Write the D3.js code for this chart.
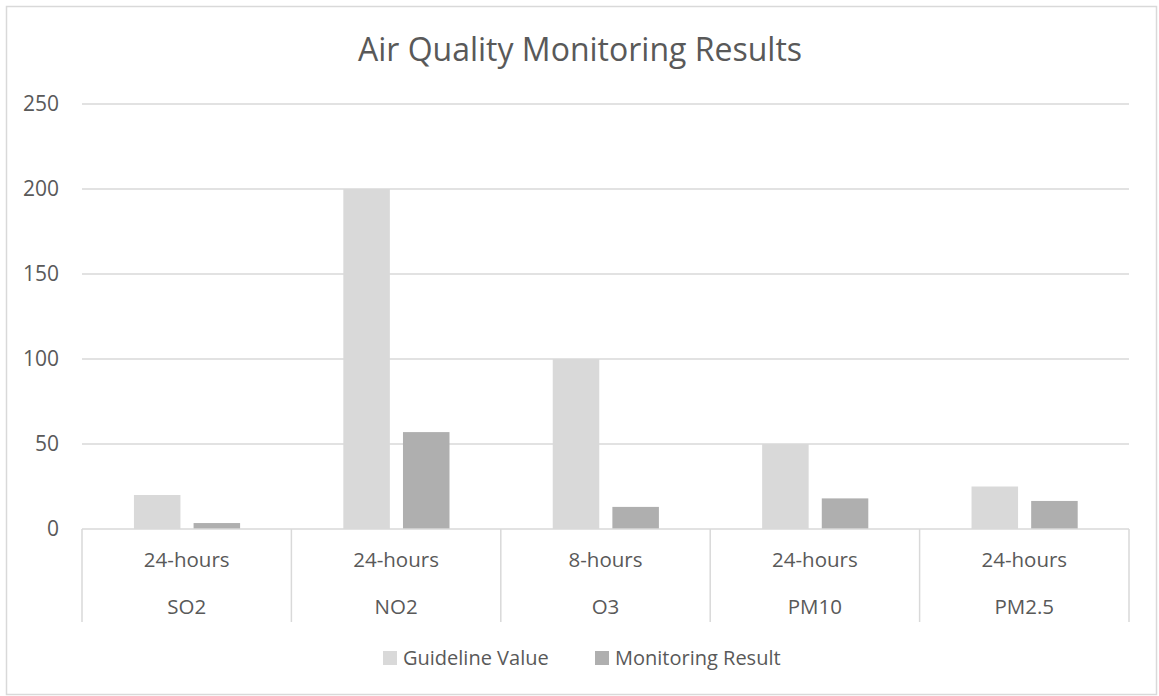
<!DOCTYPE html>
<html>
<head>
<meta charset="utf-8">
<script src="https://cdn.jsdelivr.net/npm/d3@7"></script>
<style>
body { margin: 0; background: #fff; }
text { font-family: "Open Sans", sans-serif; fill: #595959; }
</style>
</head>
<body>
<svg id="chart" width="1159" height="696"></svg>
<script>
// chart data
const pollutants = ["SO2", "NO2", "O3", "PM10", "PM2.5"];
const periods = ["24-hours", "24-hours", "8-hours", "24-hours", "24-hours"];
const seriesNames = ["Guideline Value", "Monitoring Result"];
const guideline = [20, 200, 100, 50, 25];
const monitoring = [3.5, 57, 13, 18, 16.5];
const yTicks = [0, 50, 100, 150, 200, 250];

const seriesColors = ["#d9d9d9", "#afafaf"];
const rows = pollutants.map((p, i) => ({ p: p, vals: [guideline[i], monitoring[i]] }));

const svg = d3.select("#chart");
const plotLeft = 82, plotRight = 1129, plotTop = 104, zeroY = 529;

// outer border
svg.append("rect")
.attr("x", 6.5).attr("y", 6.5)
.attr("width", 1150).attr("height", 688)
.attr("fill", "#fff")
.attr("stroke", "#d9d9d9")
.attr("stroke-width", 1.5);

const x0 = d3.scaleBand().domain(pollutants).range([plotLeft, plotRight]).padding(0);
const bw = x0.bandwidth();
const x1 = d3.scaleBand().domain(seriesNames)
.range([bw * 0.248, bw * 0.755]).paddingInner(0.22);
const y = d3.scaleLinear().domain([0, 250]).range([zeroY, plotTop]);

// gridlines
svg.append("g").selectAll("line")
.data(yTicks.filter(d => d > 0))
.join("line")
.attr("x1", plotLeft).attr("x2", plotRight)
.attr("y1", d => y(d)).attr("y2", d => y(d))
.attr("stroke", "#d9d9d9")
.attr("stroke-width", 1.5);

// y tick labels
svg.append("g").selectAll("text")
.data(yTicks)
.join("text")
.attr("x", 59)
.attr("y", d => y(d))
.attr("dy", "0.35em")
.attr("text-anchor", "end")
.style("font-size", "21px")
.text(d => d);

// bars
const groups = svg.append("g").selectAll("g")
.data(rows)
.join("g")
.attr("transform", d => `translate(${x0(d.p)},0)`);

groups.selectAll("rect")
.data(d => d.vals.map((v, i) => ({ s: seriesNames[i], v: v, i: i })))
.join("rect")
.attr("x", d => x1(d.s))
.attr("width", x1.bandwidth())
.attr("y", d => y(d.v))
.attr("height", d => zeroY - y(d.v))
.attr("fill", d => seriesColors[d.i]);

// category axis: baseline + dividers
svg.append("line")
.attr("x1", plotLeft).attr("x2", plotRight)
.attr("y1", zeroY).attr("y2", zeroY)
.attr("stroke", "#d9d9d9").attr("stroke-width", 1.5);

const dividers = pollutants.map(p => x0(p)).concat([plotRight]);
svg.append("g").selectAll("line")
.data(dividers)
.join("line")
.attr("x1", d => d).attr("x2", d => d)
.attr("y1", zeroY).attr("y2", 622)
.attr("stroke", "#d9d9d9").attr("stroke-width", 1.5);

// two-level category labels
svg.append("g").selectAll("text")
.data(pollutants)
.join("text")
.attr("x", d => x0(d) + bw / 2)
.attr("y", 567)
.attr("text-anchor", "middle")
.style("font-size", "20.5px")
.text((d, i) => periods[i]);

svg.append("g").selectAll("text")
.data(pollutants)
.join("text")
.attr("x", d => x0(d) + bw / 2)
.attr("y", 614)
.attr("text-anchor", "middle")
.style("font-size", "20.5px")
.text(d => d);

// title
svg.append("text")
.attr("x", 580)
.attr("y", 61)
.attr("text-anchor", "middle")
.style("font-size", "32px")
.text("Air Quality Monitoring Results");

// legend
const legendX = [383, 595];
const legend = svg.append("g").selectAll("g")
.data(seriesNames)
.join("g")
.attr("transform", (d, i) => `translate(${legendX[i]},651)`);

legend.append("rect")
.attr("width", 14).attr("height", 14)
.attr("fill", (d, i) => seriesColors[i]);

legend.append("text")
.attr("x", 20)
.attr("y", 14)
.style("font-size", "20px")
.text(d => d);
</script>
</body>
</html>
